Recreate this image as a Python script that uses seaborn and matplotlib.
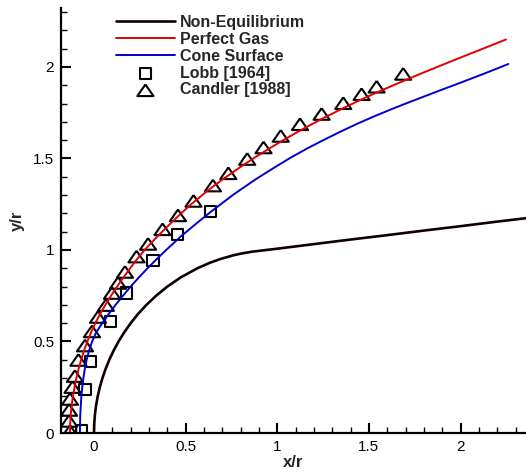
import matplotlib
matplotlib.use("Agg")
import matplotlib.pyplot as plt
import seaborn as sns
import pandas as pd
from matplotlib.ticker import MultipleLocator, FixedLocator, FixedFormatter

# ---------------- data ----------------
body_x = [0.0, 0.0013, 0.005, 0.0113, 0.0202, 0.0318, 0.0461, 0.0633, 0.0835, 0.107, 0.134,
          0.165, 0.2, 0.240, 0.286, 0.339, 0.4, 0.473, 0.564, 0.632, 0.688, 0.757, 0.801,
          0.859, 0.878, 1.0, 1.2, 1.4, 1.6, 1.8, 2.0, 2.2, 2.36]
body_y = [0.0, 0.05, 0.10, 0.15, 0.20, 0.25, 0.30, 0.35, 0.40, 0.45, 0.50,
          0.55, 0.60, 0.65, 0.70, 0.75, 0.80, 0.85, 0.90, 0.93, 0.95, 0.97, 0.98,
          0.99, 0.9925, 1.007, 1.032, 1.057, 1.081, 1.106, 1.130, 1.155, 1.174]

perfect_x = [-0.131, -0.130, -0.127, -0.122, -0.115, -0.106, -0.096, -0.084, -0.070, -0.055,
             -0.036, -0.016, 0.007, 0.033, 0.062, 0.093, 0.126, 0.161, 0.197, 0.235, 0.276,
             0.342, 0.433, 0.524, 0.615, 0.705, 0.797, 0.888, 0.979, 1.069, 1.160, 1.251,
             1.342, 1.433, 1.524, 1.615, 1.706, 1.797, 1.888, 1.979, 2.115, 2.248]
perfect_y = [0.0, 0.05, 0.10, 0.15, 0.20, 0.25, 0.30, 0.35, 0.40, 0.45,
             0.50, 0.55, 0.60, 0.65, 0.70, 0.75, 0.80, 0.85, 0.90, 0.95, 1.00,
             1.07, 1.16, 1.245, 1.320, 1.388, 1.452, 1.512, 1.568, 1.621, 1.672, 1.720,
             1.766, 1.810, 1.852, 1.892, 1.931, 1.969, 2.006, 2.043, 2.097, 2.150]

cone_x = [-0.077, -0.076, -0.075, -0.072, -0.069, -0.064, -0.058, -0.050, -0.040, -0.027,
          -0.010, 0.012, 0.045, 0.080, 0.118, 0.158, 0.200, 0.245, 0.292, 0.342, 0.394,
          0.475, 0.565, 0.642, 0.760, 0.888, 0.979, 1.069, 1.160, 1.251, 1.342, 1.433,
          1.524, 1.615, 1.706, 1.797, 1.888, 1.979, 2.120, 2.261]
cone_y = [0.0, 0.05, 0.10, 0.15, 0.20, 0.25, 0.30, 0.35, 0.40, 0.45,
          0.50, 0.55, 0.60, 0.65, 0.70, 0.75, 0.80, 0.85, 0.90, 0.95, 1.00,
          1.075, 1.15, 1.212, 1.302, 1.390, 1.447, 1.502, 1.553, 1.600, 1.645, 1.688,
          1.728, 1.766, 1.802, 1.837, 1.872, 1.906, 1.960, 2.016]

lobb_x = [-0.068, -0.049, -0.019, 0.090, 0.175, 0.322, 0.458, 0.637]
lobb_y = [0.014, 0.238, 0.393, 0.607, 0.765, 0.943, 1.086, 1.210]

candler_x = [-0.131, -0.136, -0.136, -0.131, -0.117, -0.104, -0.085, -0.049, -0.011, 0.022,
             0.065, 0.098, 0.131, 0.169, 0.232, 0.295, 0.374, 0.458, 0.543, 0.649,
             0.733, 0.836, 0.925, 1.019, 1.124, 1.242, 1.360, 1.460, 1.542, 1.687]
candler_y = [0.011, 0.066, 0.126, 0.186, 0.251, 0.311, 0.399, 0.478, 0.555, 0.634,
             0.699, 0.765, 0.820, 0.880, 0.964, 1.033, 1.113, 1.189, 1.268, 1.352,
             1.419, 1.497, 1.560, 1.623, 1.687, 1.743, 1.802, 1.851, 1.892, 1.962]

series_labels = ["Non-Equilibrium", "Perfect Gas", "Cone Surface", "Lobb [1964]", "Candler [1988]"]
x_ticks = [0, 0.5, 1, 1.5, 2]
x_tick_labels = ["0", "0.5", "1", "1.5", "2"]
y_ticks = [0, 0.5, 1, 1.5, 2]
y_tick_labels = ["0", "0.5", "1", "1.5", "2"]

# ---------------- plotting ----------------
sns.set_theme(style="white")
plt.rcParams["font.family"] = ["Liberation Sans", "DejaVu Sans"]

fig = plt.figure(figsize=(5.26, 4.73), dpi=100)
ax = fig.add_axes([61 / 526, 40 / 473, 465 / 526, 425 / 473])

body = pd.DataFrame({"x": body_x, "y": body_y})
perf = pd.DataFrame({"x": perfect_x, "y": perfect_y})
cone = pd.DataFrame({"x": cone_x, "y": cone_y})
lobb = pd.DataFrame({"x": lobb_x, "y": lobb_y})
cand = pd.DataFrame({"x": candler_x, "y": candler_y})

sns.lineplot(data=body, x="x", y="y", sort=False, estimator=None, ax=ax,
             color="#100000", linewidth=1.9, label=series_labels[0])
sns.lineplot(data=perf, x="x", y="y", sort=False, estimator=None, ax=ax,
             color="#e00000", linewidth=1.4, label=series_labels[1])
sns.lineplot(data=cone, x="x", y="y", sort=False, estimator=None, ax=ax,
             color="#0000cc", linewidth=1.4, label=series_labels[2])

tri = [(0, 0.72), (-1, -0.72), (1, -0.72), (0, 0.72)]
sns.scatterplot(data=lobb, x="x", y="y", ax=ax, marker="s", s=64,
                facecolor="none", edgecolor="black", linewidth=1.5, label=series_labels[3])
sns.scatterplot(data=cand, x="x", y="y", ax=ax, marker=tri, s=135,
                facecolor="none", edgecolor="black", linewidth=1.5, label=series_labels[4])

ax.set_xlim(-0.18, 2.357)
ax.set_ylim(0, 2.322)

for side in ["top", "right"]:
    ax.spines[side].set_visible(False)
for side in ["left", "bottom"]:
    ax.spines[side].set_linewidth(1.6)
    ax.spines[side].set_color("black")

ax.xaxis.set_major_locator(FixedLocator(x_ticks))
ax.xaxis.set_major_formatter(FixedFormatter(x_tick_labels))
ax.yaxis.set_major_locator(FixedLocator(y_ticks))
ax.yaxis.set_major_formatter(FixedFormatter(y_tick_labels))
ax.xaxis.set_minor_locator(MultipleLocator(0.1))
ax.yaxis.set_minor_locator(MultipleLocator(0.1))
ax.tick_params(which="both", direction="in", top=False, right=False,
               bottom=True, left=True, colors="black")
ax.tick_params(which="major", length=7.5, width=1.5, labelsize=11, pad=5)
ax.tick_params(which="minor", length=4, width=1.0)

ax.set_xlabel("x/r", fontsize=12, fontweight="bold", labelpad=1)
ax.set_ylabel("y/r", fontsize=12, fontweight="bold", labelpad=6)

leg = ax.legend(loc="upper left", bbox_to_anchor=(0.118, 0.984), frameon=False,
                prop={"weight": "bold", "size": 11.5}, handlelength=3.7,
                handletextpad=0.3, labelspacing=0.12, borderpad=0, borderaxespad=0)

fig.savefig("out.png", dpi=100)
